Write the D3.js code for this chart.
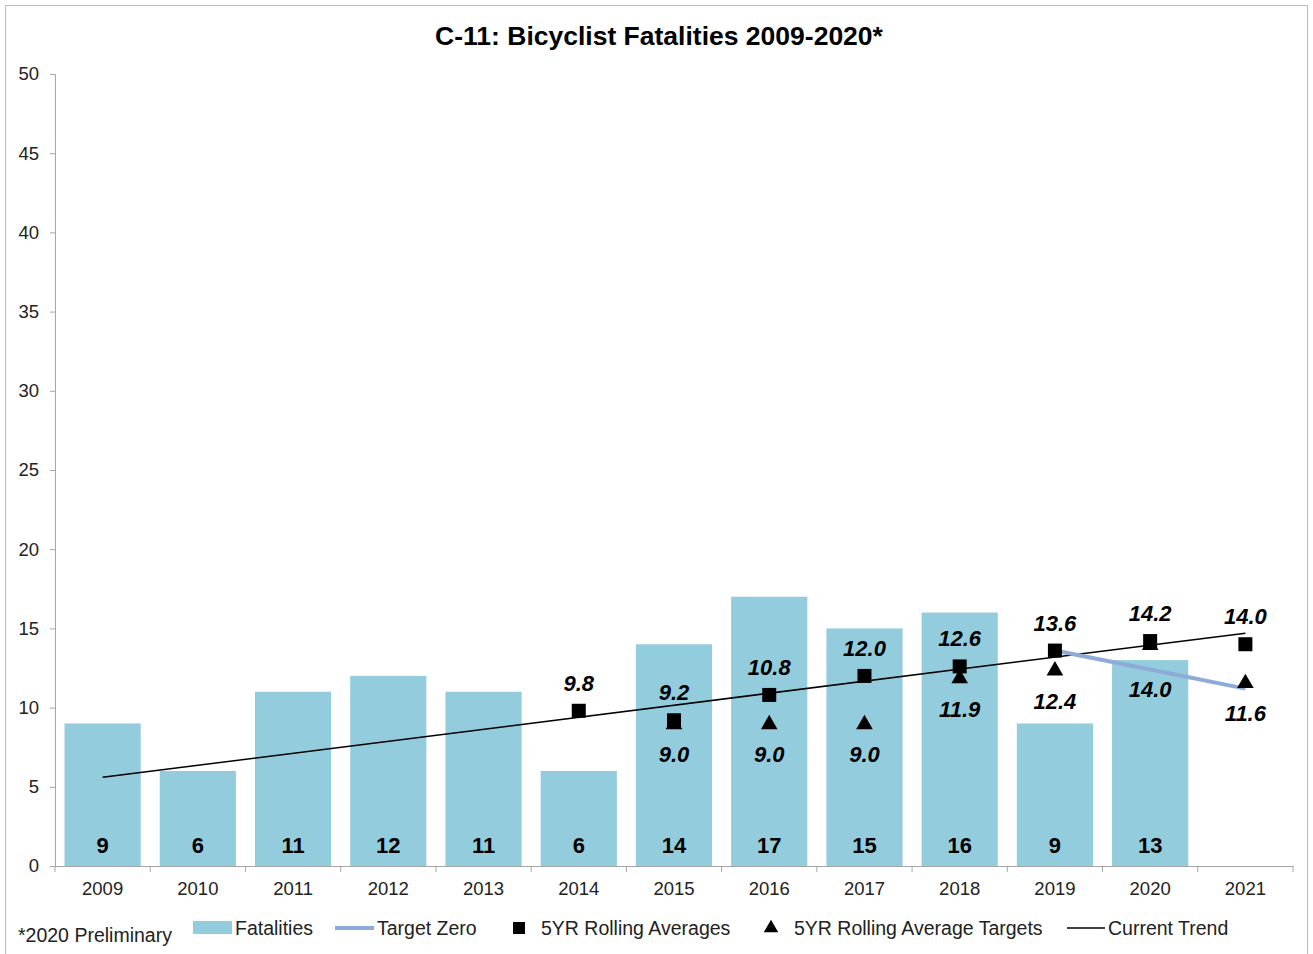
<!DOCTYPE html>
<html>
<head>
<meta charset="utf-8">
<script src="https://cdn.jsdelivr.net/npm/d3@7"></script>
<style>
  body { margin: 0; background: #fff; }
  svg { font-family: "Liberation Sans", Arial, sans-serif; }
</style>
</head>
<body>
<svg id="chart" width="1313" height="954"></svg>
<script>
// data
const years = ["2009","2010","2011","2012","2013","2014","2015","2016","2017","2018","2019","2020","2021"];
const fatalities = [9, 6, 11, 12, 11, 6, 14, 17, 15, 16, 9, 13, null];
const rollingAvg = [null, null, null, null, null, 9.8, 9.2, 10.8, 12.0, 12.6, 13.6, 14.2, 14.0];
const avgTargets = [null, null, null, null, null, null, 9.0, 9.0, 9.0, 11.9, 12.4, 14.0, 11.6];
const targetZero = [null, null, null, null, null, null, null, null, null, null, 13.6, 12.4, 11.2];
const trendYears = ["2009", "2021"];
const trendValues = [5.6, 14.7];
const yTicks = [0, 5, 10, 15, 20, 25, 30, 35, 40, 45, 50];

const svg = d3.select("#chart");
const margin = {left: 55, right: 20, top: 74, bottom: 88};
const W = 1313, H = 954;

// outer frame
svg.append("rect")
    .attr("x", 5.5).attr("y", 5.5)
    .attr("width", W - 11).attr("height", H - 5)
    .attr("fill", "none").attr("stroke", "#bdbdbd");

const x = d3.scaleBand()
    .domain(years)
    .range([margin.left, W - margin.right])
    .paddingInner(0.2).paddingOuter(0.1);

const y = d3.scaleLinear()
    .domain([0, 50])
    .range([H - margin.bottom, margin.top]);

const cx = d => x(d) + x.bandwidth() / 2;

// title
svg.append("text")
    .attr("x", 659).attr("y", 45)
    .attr("text-anchor", "middle")
    .attr("font-size", 26.5).attr("font-weight", "bold")
    .text("C-11: Bicyclist Fatalities 2009-2020*");

// y axis
const yAxis = svg.append("g")
    .attr("transform", `translate(${margin.left},0)`)
    .call(d3.axisLeft(y).tickValues(yTicks).tickSize(5).tickPadding(11));
yAxis.selectAll("path, line").attr("stroke", "#a6a6a6");
yAxis.selectAll("text").attr("font-size", 18.5).attr("fill", "#222")
    .attr("font-family", "Liberation Sans, Arial, sans-serif");

// x axis
const xAxis = svg.append("g")
    .attr("transform", `translate(0,${y(0)})`)
    .call(d3.axisBottom(x).tickSize(0).tickPadding(16));
xAxis.select("path").attr("stroke", "#a6a6a6");
xAxis.selectAll("text").attr("font-size", 18.5).attr("fill", "#222")
    .attr("font-family", "Liberation Sans, Arial, sans-serif");
// ticks at band edges
const step = x.step();
const edges = d3.range(years.length + 1).map(i => margin.left + i * step);
xAxis.selectAll(".edge").data(edges).join("line")
    .attr("x1", d => d).attr("x2", d => d)
    .attr("y1", 0).attr("y2", 6)
    .attr("stroke", "#a6a6a6");

// bars
const barData = years.map((yr, i) => ({yr, v: fatalities[i]})).filter(d => d.v != null);
svg.append("g").selectAll("rect").data(barData).join("rect")
    .attr("x", d => x(d.yr))
    .attr("y", d => y(d.v))
    .attr("width", x.bandwidth())
    .attr("height", d => y(0) - y(d.v))
    .attr("fill", "#93cddd");

svg.append("g").selectAll("text").data(barData).join("text")
    .attr("x", d => cx(d.yr))
    .attr("y", y(0) - 13)
    .attr("text-anchor", "middle")
    .attr("font-size", 22).attr("font-weight", "bold")
    .text(d => d.v);

// current trend
const line = d3.line().x(d => cx(d[0])).y(d => y(d[1]));
svg.append("path")
    .datum(trendYears.map((yr, i) => [yr, trendValues[i]]))
    .attr("d", line)
    .attr("fill", "none").attr("stroke", "#000").attr("stroke-width", 1.5);

// target zero
const tzData = years.map((yr, i) => [yr, targetZero[i]]).filter(d => d[1] != null);
svg.append("path")
    .datum(tzData)
    .attr("d", line)
    .attr("fill", "none").attr("stroke", "#8eaad6").attr("stroke-width", 4);

// triangles (targets)
const triData = years.map((yr, i) => ({yr, v: avgTargets[i]})).filter(d => d.v != null);
const tri = d3.symbol().type(d3.symbolTriangle).size(120);
svg.append("g").selectAll("path").data(triData).join("path")
    .attr("d", tri)
    .attr("transform", d => `translate(${cx(d.yr)},${y(d.v) + 1})`)
    .attr("fill", "#000");

// squares (rolling averages)
const sqData = years.map((yr, i) => ({yr, v: rollingAvg[i]})).filter(d => d.v != null);
svg.append("g").selectAll("rect").data(sqData).join("rect")
    .attr("x", d => cx(d.yr) - 7)
    .attr("y", d => y(d.v) - 7)
    .attr("width", 14).attr("height", 14)
    .attr("fill", "#000");

// labels
svg.append("g").selectAll("text").data(sqData).join("text")
    .attr("x", d => cx(d.yr))
    .attr("y", d => y(d.v) - 20)
    .attr("text-anchor", "middle")
    .attr("font-size", 22).attr("font-weight", "bold").attr("font-style", "italic")
    .text(d => d.v.toFixed(1));

svg.append("g").selectAll("text").data(triData).join("text")
    .attr("x", d => cx(d.yr))
    .attr("y", d => y(d.v) + (d.yr === "2020" ? 53 : 39))
    .attr("text-anchor", "middle")
    .attr("font-size", 22).attr("font-weight", "bold").attr("font-style", "italic")
    .text(d => d.v.toFixed(1));

// legend
const lg = svg.append("g").attr("font-size", 19.5).attr("fill", "#222");
const ly = 928;
lg.append("text").attr("x", 18).attr("y", ly + 14).text("*2020 Preliminary");
lg.append("rect").attr("x", 193).attr("y", ly - 7).attr("width", 39).attr("height", 13).attr("fill", "#93cddd");
lg.append("text").attr("x", 235).attr("y", ly + 7).text("Fatalities");
lg.append("line").attr("x1", 335).attr("x2", 374).attr("y1", ly).attr("y2", ly)
    .attr("stroke", "#8eaad6").attr("stroke-width", 4);
lg.append("text").attr("x", 377).attr("y", ly + 7).text("Target Zero");
lg.append("rect").attr("x", 513).attr("y", ly - 6).attr("width", 12).attr("height", 12).attr("fill", "#000");
lg.append("text").attr("x", 541).attr("y", ly + 7).text("5YR Rolling Averages");
lg.append("path").attr("d", d3.symbol().type(d3.symbolTriangle).size(90))
    .attr("transform", `translate(771,${ly})`).attr("fill", "#000");
lg.append("text").attr("x", 794).attr("y", ly + 7).text("5YR Rolling Average Targets");
lg.append("line").attr("x1", 1067).attr("x2", 1105).attr("y1", ly).attr("y2", ly)
    .attr("stroke", "#000").attr("stroke-width", 1.5);
lg.append("text").attr("x", 1108).attr("y", ly + 7).text("Current Trend");
</script>
</body>
</html>
